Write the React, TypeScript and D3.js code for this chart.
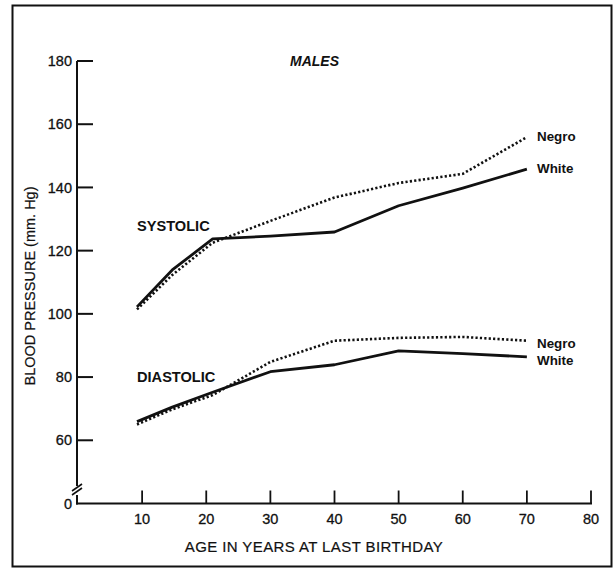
import React from "react";
import * as d3 from "d3";

const ages = [9.2, 14.7, 21, 30, 40, 50, 60, 70];
const systolicWhite = [102.2, 113.9, 123.7, 124.6, 125.9, 134.2, 139.8, 145.8];
const systolicNegro = [101.4, 112.3, 122.5, 129.4, 136.8, 141.4, 144.3, 155.9];
const diastolicWhite = [65.9, 70.5, 75.2, 81.7, 83.9, 88.3, 87.4, 86.4];
const diastolicNegro = [65.0, 69.8, 74.3, 84.8, 91.5, 92.4, 92.7, 91.5];

const xTicks = [10, 20, 30, 40, 50, 60, 70, 80];
const yTicks = [60, 80, 100, 120, 140, 160, 180];
const yBase = 40; // axis is broken: the baseline stands for 0
const yBaseLabel = "0";

const W = 615;
const H = 569;

export default function App() {
  const x = d3.scaleLinear().domain([0, 80]).range([78, 591]);
  const y = d3.scaleLinear().domain([40, 180]).range([503.5, 61]);
  const line = d3
    .line<[number, number]>()
    .x((d) => x(d[0]))
    .y((d) => y(d[1]));
  const pts = (vals: number[]) => ages.map((a, i) => [a, vals[i]] as [number, number]);
  const font = "'Liberation Sans', Arial, Helvetica, sans-serif";
  const axisX = x(0) - 1;
  const base = y(yBase);
  const lastX = xTicks[xTicks.length - 1];

  const series = [
    { vals: systolicWhite, dash: null },
    { vals: systolicNegro, dash: "2.2,2.2" },
    { vals: diastolicWhite, dash: null },
    { vals: diastolicNegro, dash: "2.2,2.2" },
  ];
  const labelPos = [
    { text: "Negro", ty: 136 },
    { text: "White", ty: 168 },
    { text: "Negro", ty: 343 },
    { text: "White", ty: 360 },
  ];
  const ink = "#111";
  const tickFont = 14.5;

  return (
    <svg
      width={W}
      height={H}
      style={{ position: "absolute", left: 0, top: 0, background: "#fff" }}
      fontFamily={font}
    >
      <rect x={0} y={0} width={W} height={H} fill="#fff" />
      <rect x={12.5} y={5.5} width={599} height={561} fill="none" stroke={ink} strokeWidth={2} />

      {/* y axis with break */}
      <line x1={axisX} x2={axisX} y1={y(180)} y2={486} stroke={ink} strokeWidth={2} />
      <line x1={axisX} x2={axisX} y1={495} y2={base + 1} stroke={ink} strokeWidth={2} />
      <line x1={axisX - 5} x2={axisX + 5} y1={491} y2={484} stroke={ink} strokeWidth={1.6} />
      <line x1={axisX - 5} x2={axisX + 5} y1={495} y2={488} stroke={ink} strokeWidth={1.6} />
      {yTicks.map((t) => (
        <g key={t}>
          <line x1={axisX} x2={axisX + 16} y1={y(t)} y2={y(t)} stroke={ink} strokeWidth={2} />
          <text x={72} y={y(t)} dy="0.35em" textAnchor="end" fontSize={tickFont} fill={ink} stroke={ink} strokeWidth={0.3}>
            {t}
          </text>
        </g>
      ))}
      <text x={72} y={base} dy="0.35em" textAnchor="end" fontSize={tickFont} fill={ink} stroke={ink} strokeWidth={0.3}>
        {yBaseLabel}
      </text>

      {/* x axis */}
      <line x1={axisX - 1} x2={x(lastX) + 1} y1={base} y2={base} stroke={ink} strokeWidth={2} />
      {xTicks.map((t) => (
        <g key={t}>
          <line x1={x(t)} x2={x(t)} y1={base} y2={base - 13} stroke={ink} strokeWidth={1.8} />
          <text x={x(t)} y={519} dy="0.35em" textAnchor="middle" fontSize={tickFont} fill={ink} stroke={ink} strokeWidth={0.3}>
            {t}
          </text>
        </g>
      ))}

      <text x={314} y={547} dy="0.35em" textAnchor="middle" fontSize={15} letterSpacing={0.4} fill={ink} stroke={ink} strokeWidth={0.2}>
        AGE IN YEARS AT LAST BIRTHDAY
      </text>
      <text
        transform={`translate(30,286) rotate(-90)`}
        dy="0.35em"
        textAnchor="middle"
        fontSize={14.5}
        fill={ink}
        stroke={ink}
        strokeWidth={0.2}
      >
        BLOOD PRESSURE (mm. Hg)
      </text>

      <text x={290} y={61} dy="0.35em" fontSize={14} fontStyle="italic" fontWeight="bold" fill={ink}>
        MALES
      </text>
      <text x={137} y={226} dy="0.35em" fontSize={14.6} fontWeight="bold" fill={ink}>
        SYSTOLIC
      </text>
      <text x={137} y={377} dy="0.35em" fontSize={14.6} fontWeight="bold" fill={ink}>
        DIASTOLIC
      </text>

      {series.map((s, i) => (
        <path
          key={i}
          d={line(pts(s.vals)) || ""}
          fill="none"
          stroke={ink}
          strokeWidth={s.dash ? 2.6 : 2.8}
          strokeDasharray={s.dash || undefined}
          strokeLinejoin="round"
        />
      ))}
      {labelPos.map((l, i) => (
        <text key={i} x={537} y={l.ty} dy="0.35em" fontSize={13.4} fontWeight="bold" fill={ink}>
          {l.text}
        </text>
      ))}
    </svg>
  );
}
